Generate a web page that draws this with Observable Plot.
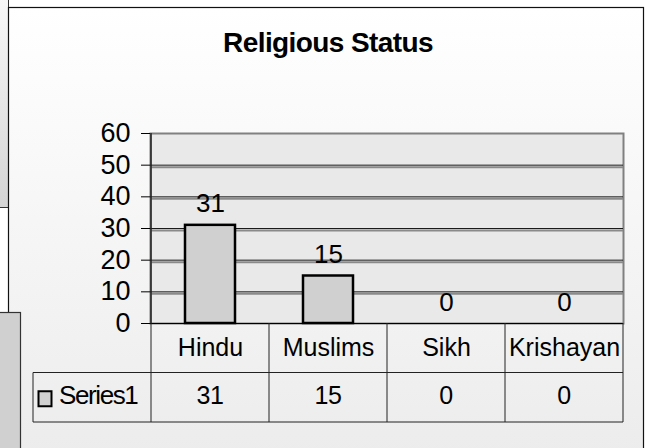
<!DOCTYPE html>
<html>
<head>
<meta charset="utf-8">
<script src="https://cdn.jsdelivr.net/npm/d3@7"></script>
<script src="https://cdn.jsdelivr.net/npm/@observablehq/plot@0.6"></script>
<style>
  html, body { margin: 0; padding: 0; background: #fff; }
  #chart svg { display: block; font-family: "Liberation Sans", Arial, sans-serif; }
</style>
</head>
<body>
<div id="chart"></div>
<script>
const title = "Religious Status";
const categories = ["Hindu", "Muslims", "Sikh", "Krishayan"];
const series1 = [31, 15, 0, 0];
const seriesName = "Series1";
const yTicks = [0, 10, 20, 30, 40, 50, 60];

const data = categories.map((c, i) => ({category: c, value: series1[i]}));

const W = 645, H = 448;
const chart = Plot.plot({
  width: W,
  height: H,
  marginLeft: 150,
  marginRight: 22,
  marginTop: 133,
  marginBottom: 125,
  style: {background: "transparent", fontFamily: "Liberation Sans, Arial, sans-serif", overflow: "visible"},
  x: {domain: categories, paddingInner: 0.58, paddingOuter: 0.29, label: null},
  y: {domain: [0, 60], label: null},
  marks: [
    Plot.frame({fill: "#e9e9e9", stroke: "#808080", strokeWidth: 2}),
    Plot.ruleY(yTicks.filter(d => d > 0 && d < 60), {stroke: "#8a8a8a", strokeWidth: 2, dy: 2}),
    Plot.ruleY(yTicks.filter(d => d > 0 && d < 60), {stroke: "#1a1a1a", strokeWidth: 1}),
    Plot.axisY({ticks: yTicks, tickSize: 9, tickPadding: 11, fontSize: 27, stroke: "#000", fill: "#000", label: null, style: {letterSpacing: "-0.5px"}}),
    Plot.axisX({tickSize: 0, tickPadding: 15, fontSize: 25, fill: "#000", label: null, style: {letterSpacing: "-1.5px"}}),
    Plot.barY(data, {x: "category", y: "value", fill: "#d0d0d0", stroke: "#000", strokeWidth: 2.5}),
    Plot.ruleY([0], {stroke: "#000", strokeWidth: 1.2}),
    Plot.text(data, {x: "category", y: "value", text: d => String(d.value), lineAnchor: "bottom", dy: -13, fontSize: 26, fill: "#000", style: {letterSpacing: "-0.5px"}})
  ]
});

const svg = d3.select(chart);
const xs = chart.scale("x");
const ys = chart.scale("y");
const y0 = ys.apply(0);
const rowH = 49.5;
const step = xs.step;
const edges = categories.map(c => xs.apply(c) + xs.bandwidth / 2 - step / 2);
edges.push(edges[edges.length - 1] + step);
const legendLeft = 33;

// background decorations (inserted first)
const defs = svg.insert("defs", ":first-child");
const g1 = defs.append("linearGradient").attr("id", "panelGrad").attr("x1", 0).attr("x2", 0).attr("y1", 0).attr("y2", 1);
g1.append("stop").attr("offset", "0%").attr("stop-color", "#ffffff");
g1.append("stop").attr("offset", "100%").attr("stop-color", "#ececec");
const g2 = defs.append("linearGradient").attr("id", "stripGrad").attr("x1", 0).attr("x2", 0).attr("y1", 0).attr("y2", 1);
g2.append("stop").attr("offset", "0%").attr("stop-color", "#f8f8f8");
g2.append("stop").attr("offset", "100%").attr("stop-color", "#d4d4d4");

const bg = svg.insert("g", "defs + *");
bg.append("rect").attr("x", -1).attr("y", -1).attr("width", 9.5).attr("height", 208.5)
  .attr("fill", "url(#stripGrad)").attr("stroke", "#333").attr("stroke-width", 1);
bg.append("rect").attr("x", 8.5).attr("y", 7.5).attr("width", 635).attr("height", 450)
  .attr("fill", "url(#panelGrad)").attr("stroke", "#111").attr("stroke-width", 1.2);
bg.append("rect").attr("x", -1).attr("y", 312.5).attr("width", 21.5).attr("height", 140)
  .attr("fill", "#d0d0d0").attr("stroke", "#333").attr("stroke-width", 1.2);

// title
svg.append("text").attr("x", 328).attr("y", 45).attr("text-anchor", "middle").attr("dominant-baseline", "middle")
  .attr("font-size", 28).attr("font-weight", "bold").attr("letter-spacing", "-0.6px").attr("fill", "#000").text(title);

// data table
const tg = svg.append("g").attr("stroke", "#222").attr("stroke-width", 1);
edges.forEach(x => tg.append("line").attr("x1", x).attr("x2", x).attr("y1", y0).attr("y2", y0 + 2 * rowH));
tg.append("line").attr("x1", edges[0]).attr("x2", edges[0]).attr("y1", ys.apply(60)).attr("y2", y0).attr("stroke-width", 1.5);
tg.append("line").attr("x1", legendLeft).attr("x2", edges[edges.length - 1]).attr("y1", y0 + rowH).attr("y2", y0 + rowH);
tg.append("line").attr("x1", legendLeft).attr("x2", edges[edges.length - 1]).attr("y1", y0 + 2 * rowH).attr("y2", y0 + 2 * rowH);
tg.append("line").attr("x1", legendLeft).attr("x2", legendLeft).attr("y1", y0 + rowH).attr("y2", y0 + 2 * rowH);

const rowMid = y0 + rowH * 1.5;
svg.append("rect").attr("x", 38.5).attr("y", rowMid - 6).attr("width", 13).attr("height", 15)
  .attr("fill", "#d0d0d0").attr("stroke", "#000").attr("stroke-width", 2);
svg.append("text").attr("x", 59).attr("y", rowMid).attr("text-anchor", "start").attr("dominant-baseline", "middle")
  .attr("font-size", 26).attr("letter-spacing", "-1.4px").attr("fill", "#000").text(seriesName);
data.forEach(d => {
  svg.append("text").attr("x", xs.apply(d.category) + xs.bandwidth / 2).attr("y", rowMid)
    .attr("text-anchor", "middle").attr("dominant-baseline", "middle")
    .attr("font-size", 25).attr("letter-spacing", "-0.5px").attr("fill", "#000").text(String(d.value));
});

document.getElementById("chart").appendChild(chart);
</script>
</body>
</html>
